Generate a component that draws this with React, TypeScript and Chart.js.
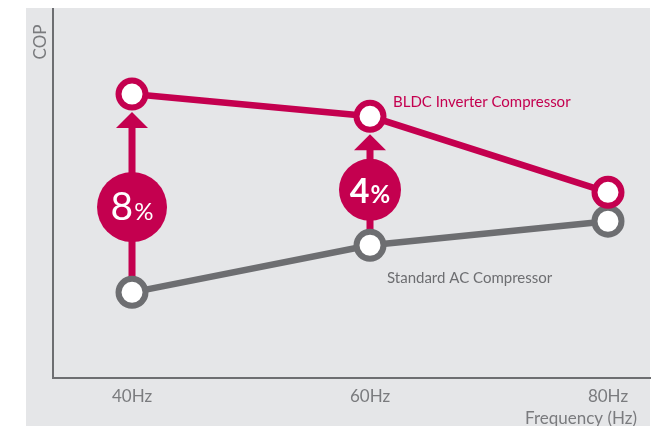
import React, { useEffect, useRef } from 'react';
import { Chart, registerables } from 'chart.js';

Chart.register(...registerables);

// ---- data ----
const frequencies = [40, 60, 80];
const tickLabels = ['40Hz', '60Hz', '80Hz'];
const bldcCop = [7.65, 7.05, 5.0];
const standardCop = [2.3, 3.57, 4.22];
const improvementFreqs = [40, 60];
const improvementValues = ['8', '4'];
const seriesNames = ['BLDC Inverter Compressor', 'Standard AC Compressor'];
const yAxisTitle = 'COP';
const xAxisTitle = 'Frequency (Hz)';

// ---- styles ----
const CRIMSON = '#c4004f';
const GREY = '#6d6e71';
const TEXT_GREY = '#7a7b7e';
const BG = '#e5e6e8';
const FONT = 'Lato, "Open Sans", sans-serif';

const decorPlugin = {
  id: 'decor',
  beforeDraw(chart: any) {
    const ctx = chart.ctx;
    ctx.save();
    ctx.fillStyle = BG;
    ctx.fillRect(26, 7, 624, 427);
    ctx.restore();
  },
  beforeDatasetsDraw(chart: any) {
    const ctx = chart.ctx;
    const xs = chart.scales.x;
    const ys = chart.scales.y;
    const radii = [35, 31];
    const weights = ['400', '700'];
    const digitSizes = [39, 34];
    ctx.save();
    improvementFreqs.forEach((f, i) => {
      const idx = frequencies.indexOf(f);
      const px = xs.getPixelForValue(f);
      const yTop = ys.getPixelForValue(bldcCop[idx]);
      const yBot = ys.getPixelForValue(standardCop[idx]);
      const tip = yTop + 18;
      const base = tip + 16;
      ctx.fillStyle = CRIMSON;
      ctx.fillRect(px - 3.5, base - 1, 7, yBot - base + 1);
      ctx.beginPath();
      ctx.moveTo(px, tip);
      ctx.lineTo(px - 16, base);
      ctx.lineTo(px + 16, base);
      ctx.closePath();
      ctx.fill();
      const cy = yBot - 0.43 * (yBot - yTop);
      ctx.beginPath();
      ctx.arc(px, cy, radii[i], 0, Math.PI * 2);
      ctx.fill();
      // text
      const bigFont = `${weights[i]} ${digitSizes[i]}px ${FONT}`;
      const smallFont = `${weights[i]} 24px ${FONT}`;
      ctx.font = bigFont;
      const w1 = ctx.measureText(improvementValues[i]).width;
      ctx.font = smallFont;
      const w2 = ctx.measureText('%').width;
      const startX = px - (w1 + w2 + 1) / 2;
      const baseline = cy + 13;
      ctx.fillStyle = '#ffffff';
      ctx.textAlign = 'left';
      ctx.textBaseline = 'alphabetic';
      ctx.font = bigFont;
      ctx.fillText(improvementValues[i], startX, baseline);
      ctx.font = smallFont;
      ctx.fillText('%', startX + w1 + 1, baseline);
    });
    ctx.restore();
  },
  afterDatasetsDraw(chart: any) {
    const ctx = chart.ctx;
    const xs = chart.scales.x;
    const ys = chart.scales.y;
    ctx.save();
    ctx.textAlign = 'left';
    ctx.textBaseline = 'middle';
    ctx.font = `15px ${FONT}`;
    const px = xs.getPixelForValue(frequencies[1]);
    ctx.fillStyle = CRIMSON;
    ctx.fillText(seriesNames[0], px + 23, ys.getPixelForValue(bldcCop[1]) - 14);
    ctx.fillStyle = GREY;
    ctx.fillText(seriesNames[1], px + 17, ys.getPixelForValue(standardCop[1]) + 33);

    // axis titles
    ctx.fillStyle = TEXT_GREY;
    ctx.font = `17px ${FONT}`;
    ctx.textAlign = 'right';
    ctx.fillText(xAxisTitle, 637, 419);
    ctx.save();
    ctx.translate(41, 42);
    ctx.rotate(-Math.PI / 2);
    ctx.textAlign = 'center';
    ctx.fillText(yAxisTitle, 0, 0);
    ctx.restore();
    ctx.restore();
  },
};

export default function App() {
  const canvasRef = useRef<HTMLCanvasElement | null>(null);

  useEffect(() => {
    if (!canvasRef.current) return;
    const chart = new Chart(canvasRef.current, {
      type: 'line',
      data: {
        datasets: [
          {
            label: seriesNames[0],
            data: frequencies.map((f, i) => ({ x: f, y: bldcCop[i] })),
            borderColor: CRIMSON,
            borderWidth: 6.5,
            pointRadius: 13.5,
            pointBorderWidth: 6,
            pointBackgroundColor: '#ffffff',
            pointBorderColor: CRIMSON,
            tension: 0,
            clip: false as any,
          },
          {
            label: seriesNames[1],
            data: frequencies.map((f, i) => ({ x: f, y: standardCop[i] })),
            borderColor: GREY,
            borderWidth: 6.5,
            pointRadius: 13.5,
            pointBorderWidth: 6,
            pointBackgroundColor: '#ffffff',
            pointBorderColor: GREY,
            tension: 0,
            clip: false as any,
          },
        ],
      },
      options: {
        animation: false,
        responsive: false,
        devicePixelRatio: 1,
        layout: { autoPadding: false, padding: { left: 53, right: 17, top: 7, bottom: 18 } },
        plugins: {
          legend: { display: false },
          tooltip: { enabled: false },
        },
        events: [],
        scales: {
          x: {
            type: 'linear',
            min: 33.36,
            max: 83.53,
            afterBuildTicks: (scale: any) => {
              scale.ticks = frequencies.map((v) => ({ value: v }));
            },
            grid: { display: false, drawTicks: false },
            border: { display: true, color: GREY, width: 2 },
            ticks: {
              padding: 9,
              color: TEXT_GREY,
              font: { family: FONT, size: 17 },
              callback: (v: any) => {
                const i = frequencies.indexOf(Number(v));
                return i >= 0 ? tickLabels[i] : '';
              },
            },
          },
          y: {
            min: 0,
            max: 10,
            grid: { display: false, drawTicks: false },
            border: { display: true, color: GREY, width: 2 },
            ticks: { display: false },
          },
        },
      },
      plugins: [decorPlugin],
    });
    return () => chart.destroy();
  }, []);

  return (
    <div style={{ position: 'relative', width: 667, height: 434, margin: -8, background: '#ffffff' }}>
      <canvas ref={canvasRef} width={667} height={434} style={{ display: 'block' }} />
    </div>
  );
}
